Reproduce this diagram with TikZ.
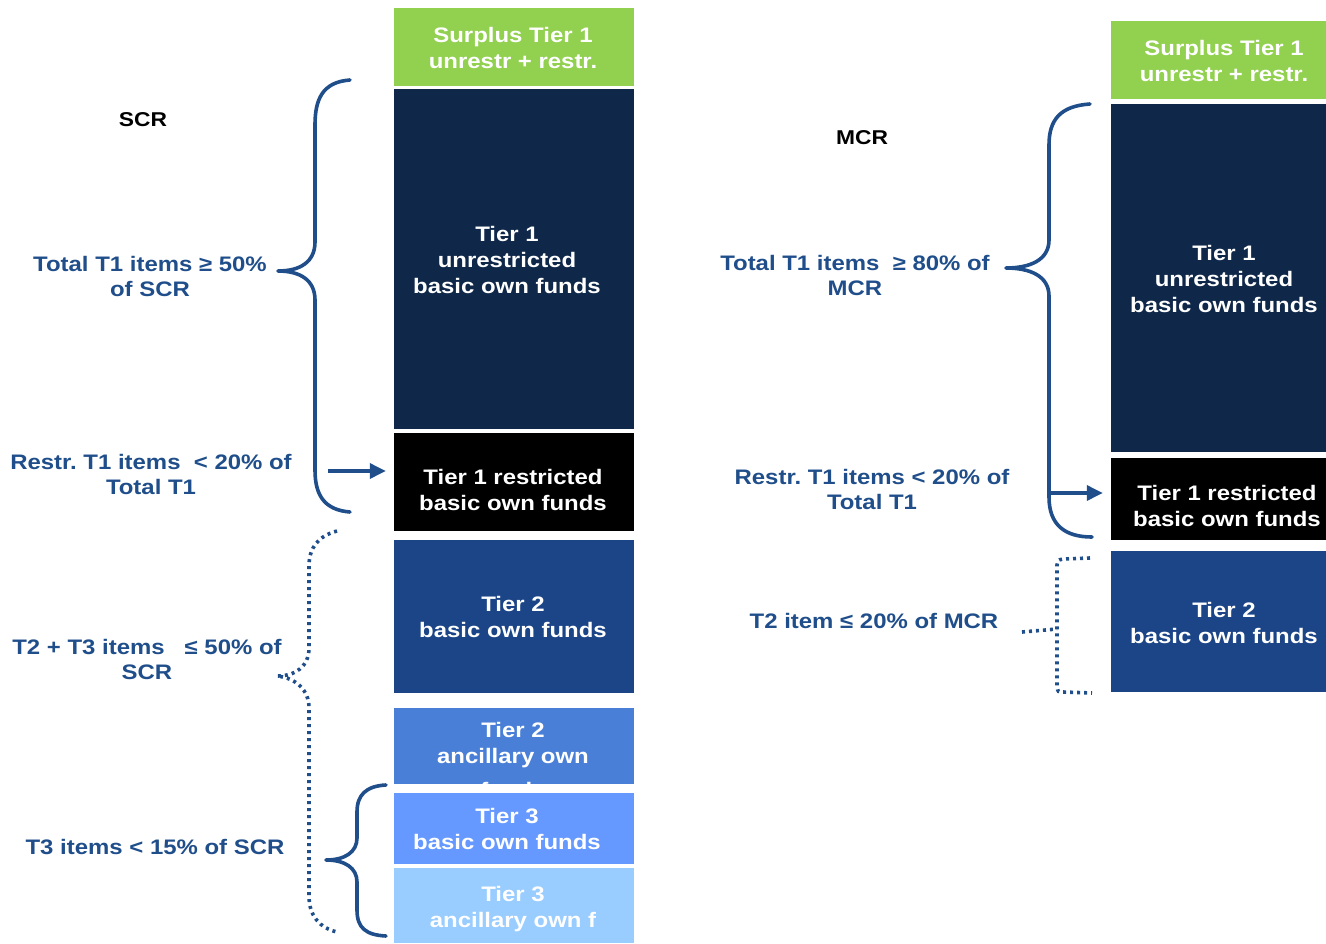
\documentclass[tikz,border=0pt]{standalone}
\usepackage{fontspec}
\setmainfont[FakeStretch=1.14]{Liberation Sans}
\usetikzlibrary{arrows.meta}
\definecolor{cgreen}{HTML}{92D050}
\definecolor{cnavy}{HTML}{0F2749}
\definecolor{ctwob}{HTML}{1C4587}
\definecolor{ctwoa}{HTML}{4A7FD7}
\definecolor{cthreeb}{HTML}{6699FF}
\definecolor{cthreea}{HTML}{99CCFF}
\definecolor{cblue}{HTML}{1F4E8A}
\tikzset{
  boxtext/.style={text=white, align=center, font=\fontsize{21}{26}\selectfont\bfseries, inner sep=0pt},
  lbox/.style={draw=none, minimum width=240pt, inner sep=0pt, anchor=center},
  rbox/.style={draw=none, minimum width=215pt, inner sep=0pt, anchor=center},
  lab/.style={text=cblue, align=center, font=\fontsize{21}{25}\selectfont\bfseries, inner sep=0pt},
  hdr/.style={text=black, font=\fontsize{20}{24}\selectfont\bfseries, inner sep=0pt},
  brace/.style={draw=cblue, line width=3.6pt, line cap=round, line join=round},
  dotbrace/.style={draw=cblue, line width=3.6pt, dash pattern=on 3pt off 4pt},
  arr/.style={draw=cblue, line width=3.4pt, -{Triangle[length=16pt,width=15pt]}}
}
\frenchspacing
\begin{document}
\begin{tikzpicture}[x=1pt,y=-1pt]
\useasboundingbox (0,0) rectangle (1326,943);
% left column boxes
\node[lbox, fill=cgreen, minimum height=78pt] (s1) at (514,47) {};
\node[lbox, fill=cnavy, minimum height=340pt] (t1u) at (514,259) {};
\node[lbox, fill=black, minimum height=98pt] (t1r) at (514,482) {};
\node[lbox, fill=ctwob, minimum height=153pt] (t2b) at (514,616.5) {};
\node[lbox, fill=ctwoa, minimum height=76pt] (t2a) at (514,746) {};
\node[lbox, fill=cthreeb, minimum height=71pt] (t3b) at (514,828.5) {};
\node[lbox, fill=cthreea, minimum height=75pt] (t3a) at (514,905.5) {};
% left column texts
\node[boxtext] (s1t) at (513,48) {Surplus Tier 1\\unrestr + restr.};
\node[boxtext] (t1ut) at (507,260) {Tier 1\\unrestricted\\basic own funds};
\node[boxtext] (t1rt) at (513,490) {Tier 1 restricted\\basic own funds};
\node[boxtext] (t2bt) at (513,617) {Tier 2\\basic own funds};
\node[boxtext] (t2at) at (513,745) {Tier 2\\ancillary own};
\begin{scope}
\clip (t2a.south west) rectangle (t2a.north east);
\node[boxtext, anchor=base] (t2at2) at (513,797) {funds};
\end{scope}
\node[boxtext] (t3bt) at (507,829) {Tier 3\\basic own funds};
\node[boxtext] (t3at) at (513,909) {Tier 3\\ancillary own f};
% right column boxes
\node[rbox, fill=cgreen, minimum height=78pt] (s2) at (1218.5,60) {};
\node[rbox, fill=cnavy, minimum height=348pt] (r1u) at (1218.5,278) {};
\node[rbox, fill=black, minimum height=82pt] (r1r) at (1218.5,499) {};
\node[rbox, fill=ctwob, minimum height=141pt] (r2b) at (1218.5,621.5) {};
% right column texts
\node[boxtext] (s2t) at (1224,61) {Surplus Tier 1\\unrestr + restr.};
\node[boxtext] (r1ut) at (1224,279) {Tier 1\\unrestricted\\basic own funds};
\node[boxtext] (r1rt) at (1227,506) {Tier 1 restricted\\basic own funds};
\node[boxtext] (r2bt) at (1224,623) {Tier 2\\basic own funds};
% headers
\node[hdr] (scr) at (143,120) {SCR};
\node[hdr] (mcr) at (862,138) {MCR};
% left labels
\node[lab] (l1) at (150,276) {Total T1 items ≥ 50\%\\of SCR};
\node[lab] (l2) at (151,474) {Restr. T1 items~ < 20\% of\\Total T1};
\node[lab] (l3) at (147,659) {T2 + T3 items~~ ≤ 50\% of\\SCR};
\node[lab] (l4) at (155,847) {T3 items < 15\% of SCR};
% right labels
\node[lab] (r1) at (855,275) {Total T1 items~ ≥ 80\% of\\MCR};
\node[lab] (r2) at (872,489) {Restr. T1 items < 20\% of\\Total T1};
\node[lab] (r3) at (874,621) {T2 item ≤ 20\% of MCR};
% left big brace
\draw[brace] (350,80) .. controls (322,82) and (315,100) .. (315,125) -- (315,242)
  .. controls (315,262) and (300,271) .. (278,271)
  .. controls (300,271) and (315,280) .. (315,300) -- (315,470)
  .. controls (315,496) and (325,510) .. (350,512);
% left arrow
\coordinate (a1) at (328,471);
\draw[arr, shorten >=8pt] (a1) -- (a1 -| t1r.west);
% left dotted brace
\draw[dotbrace] (337,531) .. controls (318,536) and (309,548) .. (309,566) -- (309,648)
  .. controls (309,666) and (296,676) .. (277,676)
  .. controls (296,678) and (309,690) .. (309,708) -- (309,896)
  .. controls (309,916) and (320,928) .. (337,932);
% left small brace
\draw[brace] (386,785) .. controls (366,786) and (357,795) .. (357,812) -- (357,838)
  .. controls (357,852) and (345,860) .. (326,860)
  .. controls (345,860) and (357,868) .. (357,882) -- (357,910)
  .. controls (357,928) and (366,935) .. (386,936);
% right big brace
\draw[brace] (1090,104) .. controls (1060,106) and (1049,120) .. (1049,145) -- (1049,240)
  .. controls (1049,260) and (1030,268) .. (1006,268)
  .. controls (1030,268) and (1049,276) .. (1049,296) -- (1049,497)
  .. controls (1049,525) and (1065,537) .. (1092,537);
% right arrow
\coordinate (a2) at (1049,493);
\draw[arr, shorten >=8pt] (a2) -- (a2 -| r1r.west);
% right dotted bracket
\draw[dotbrace] (1090,558) -- (1063,559) .. controls (1058,560) .. (1057,565) -- (1057,687)
  .. controls (1058,692) .. (1063,692) -- (1092,693);
\draw[dotbrace] (1022,632) -- (1057,629);
\end{tikzpicture}
\end{document}
